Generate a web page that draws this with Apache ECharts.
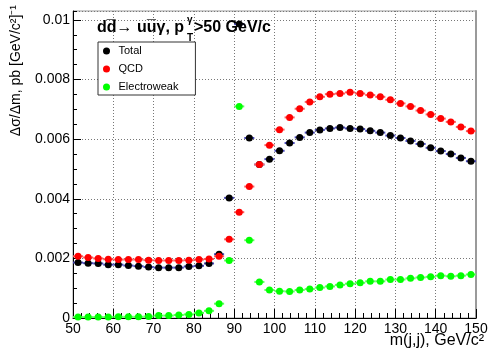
<!DOCTYPE html>
<html>
<head>
<meta charset="utf-8">
<script src="https://cdn.jsdelivr.net/npm/echarts@6/dist/echarts.min.js"></script>
<style>
html, body { margin: 0; padding: 0; background: #fff; }
#chart { width: 491px; height: 353px; }
</style>
</head>
<body>
<div id="chart"></div>
<script>
// m(j,j) bin centres, GeV/c^2 (bins are 2.5 GeV wide)
var massBins = [51.25, 53.75, 56.25, 58.75, 61.25, 63.75, 66.25, 68.75, 71.25, 73.75,
  76.25, 78.75, 81.25, 83.75, 86.25, 88.75, 91.25, 93.75, 96.25, 98.75,
  101.25, 103.75, 106.25, 108.75, 111.25, 113.75, 116.25, 118.75, 121.25, 123.75,
  126.25, 128.75, 131.25, 133.75, 136.25, 138.75, 141.25, 143.75, 146.25, 148.75];
var binHalfWidth = 1.25;

// d(sigma)/dm, pb/GeV
var totalVals = [0.00186, 0.00184, 0.00183, 0.00179, 0.00179, 0.00176, 0.00174, 0.00171, 0.00169, 0.00169,
  0.00169, 0.00173, 0.00175, 0.00183, 0.00214, 0.00403, 0.00986, 0.00604, 0.00515, 0.00533,
  0.00561, 0.00587, 0.00606, 0.00622, 0.00631, 0.00636, 0.00639, 0.00636, 0.00634, 0.00628,
  0.00622, 0.00612, 0.00604, 0.00594, 0.00584, 0.00571, 0.00560, 0.00550, 0.00537, 0.00526];
var qcdVals = [0.00207, 0.00203, 0.00200, 0.00197, 0.00196, 0.00196, 0.00196, 0.00194, 0.00193, 0.00193,
  0.00193, 0.00194, 0.00196, 0.00198, 0.00207, 0.00264, 0.00355, 0.00441, 0.00515, 0.00580,
  0.00632, 0.00673, 0.00702, 0.00725, 0.00742, 0.00751, 0.00753, 0.00757, 0.00753, 0.00748,
  0.00742, 0.00732, 0.00720, 0.00710, 0.00696, 0.00683, 0.00669, 0.00658, 0.00641, 0.00627];
var ewVals = [0.00003, 0.00003, 0.00003, 0.00003, 0.00004, 0.00004, 0.00004, 0.00005, 0.00008, 0.00008,
  0.00010, 0.00012, 0.00017, 0.00024, 0.00048, 0.00193, 0.00710, 0.00261, 0.00121, 0.00094,
  0.00090, 0.00089, 0.00094, 0.00097, 0.00102, 0.00106, 0.00111, 0.00115, 0.00118, 0.00123,
  0.00123, 0.00129, 0.00129, 0.00133, 0.00136, 0.00138, 0.00142, 0.00140, 0.00142, 0.00146];

var xTicks = { min: 50, max: 150, step: 10 };
var yTicks = { min: 0, max: 0.0103, step: 0.002 };

var FONT = '"Liberation Sans", Arial, Helvetica, sans-serif';

function pairs(vals) {
  return massBins.map(function (m, i) { return [m, vals[i]]; });
}

function errBars(name, vals, color, z) {
  return {
    type: 'custom',
    name: name + ' err',
    z: z,
    silent: true,
    data: pairs(vals),
    renderItem: function (params, api) {
      var x = api.value(0), y = api.value(1);
      var p1 = api.coord([x - binHalfWidth, y]);
      var p2 = api.coord([x + binHalfWidth, y]);
      return {
        type: 'line',
        shape: { x1: p1[0], y1: p1[1], x2: p2[0], y2: p2[1] },
        style: { stroke: color, lineWidth: 2 }
      };
    }
  };
}

function dots(name, vals, color, z) {
  return {
    type: 'scatter',
    name: name,
    z: z,
    symbol: 'circle',
    symbolSize: 7,
    itemStyle: { color: color, opacity: 1 },
    data: pairs(vals)
  };
}

var chart = echarts.init(document.getElementById('chart'));

var option = {
  animation: false,
  backgroundColor: '#fff',
  grid: {
    left: 73, right: 15, top: 11, bottom: 35,
    show: true, borderColor: '#9a9a9a', borderWidth: 1, backgroundColor: 'transparent'
  },
  legend: {
    data: ['Total', 'QCD', 'Electroweak'],
    orient: 'vertical',
    left: 98, top: 42,
    icon: 'circle',
    itemWidth: 14, itemHeight: 7,
    itemGap: 6,
    padding: [3, 17, 2, 5],
    borderColor: '#333', borderWidth: 1,
    backgroundColor: '#fff',
    z: 20,
    textStyle: { fontFamily: FONT, fontSize: 11, color: '#000', lineHeight: 12 }
  },
  xAxis: [{
    type: 'value',
    min: xTicks.min, max: xTicks.max, interval: xTicks.step,
    axisLine: { lineStyle: { color: '#000', width: 1 } },
    axisTick: { inside: true, length: 9, lineStyle: { color: '#000' } },
    minorTick: { show: true, splitNumber: 5, length: 5, lineStyle: { color: '#000' } },
    splitLine: { show: true, lineStyle: { color: '#777', type: [1, 2], width: 1 } },
    axisLabel: { fontFamily: FONT, fontSize: 14, color: '#000', margin: 4 }
  }],
  yAxis: [{
    type: 'value',
    min: yTicks.min, max: yTicks.max, interval: yTicks.step,
    axisLine: { show: true, lineStyle: { color: '#000', width: 1 } },
    axisTick: { inside: true, length: 8, lineStyle: { color: '#000' } },
    splitLine: { show: true, lineStyle: { color: '#777', type: [1, 2], width: 1 } },
    axisLabel: {
      fontFamily: FONT, fontSize: 14, color: '#000', margin: 3, showMaxLabel: false,
      formatter: function (v) { return v === 0 ? '0' : String(+v.toFixed(4)); }
    }
  }, {
    type: 'value',
    position: 'left',
    min: yTicks.min, max: yTicks.max, interval: yTicks.step / 4,
    axisLine: { show: false },
    axisTick: { inside: true, length: 4, lineStyle: { color: '#000' } },
    splitLine: { show: false },
    axisLabel: { show: false }
  }, {
    type: 'value',
    position: 'right',
    min: yTicks.min, max: yTicks.max,
    axisLine: { show: true, lineStyle: { color: '#9a9a9a', width: 2 } },
    axisTick: { show: false },
    splitLine: { show: false },
    axisLabel: { show: false }
  }],
  series: [
    errBars('Total', totalVals, '#4848b8', 2),
    dots('Total', totalVals, '#000000', 3),
    errBars('QCD', qcdVals, '#ff5c5c', 4),
    dots('QCD', qcdVals, '#ff0000', 5),
    errBars('Electroweak', ewVals, '#5cff5c', 6),
    dots('Electroweak', ewVals, '#00ff00', 7)
  ],
  graphic: [
    { type: 'text', x: 97, y: 28, z: 30,
      style: { text: 'dd\u0305\u2192 uu\u0305\u03b3, p', font: 'bold 16px ' + FONT, fill: '#000', verticalAlign: 'middle' } },
    { type: 'text', x: 187, y: 20, z: 30,
      style: { text: '\u03b3', font: 'bold 10px ' + FONT, fill: '#000', verticalAlign: 'middle' } },
    { type: 'text', x: 187, y: 38, z: 30,
      style: { text: 'T', font: 'bold 10px ' + FONT, fill: '#000', verticalAlign: 'middle' } },
    { type: 'text', x: 194, y: 28, z: 30,
      style: { text: '>50 GeV/c', font: 'bold 16px ' + FONT, fill: '#000', verticalAlign: 'middle' } },
    { type: 'text', x: 16, y: 5, rotation: Math.PI / 2,
      style: { text: '\u0394\u03c3/\u0394m, pb [GeV/c\u00b2]\u207b\u00b9', font: '14px ' + FONT, fill: '#000', align: 'right', verticalAlign: 'middle' } },
    { type: 'text', x: 484, y: 341,
      style: { text: 'm(j,j), GeV/c\u00b2', font: '16px ' + FONT, fill: '#000', align: 'right', verticalAlign: 'middle' } }
  ]
};

chart.setOption(option);
</script>
</body>
</html>
